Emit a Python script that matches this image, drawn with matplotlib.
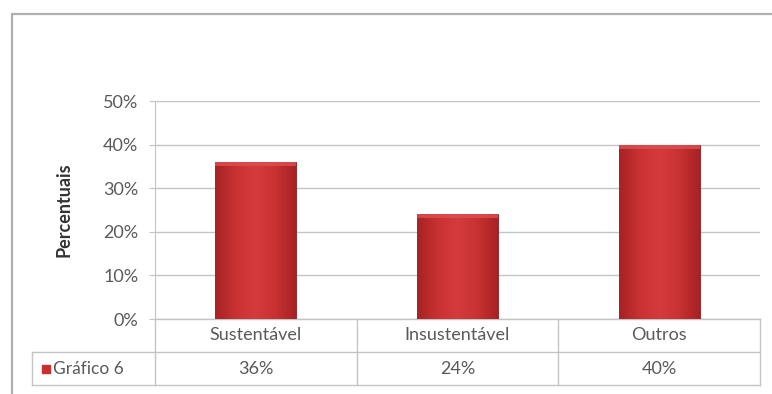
import matplotlib
matplotlib.use("Agg")
import matplotlib.pyplot as plt
import matplotlib.transforms as mtransforms
import numpy as np
from matplotlib.colors import LinearSegmentedColormap
from matplotlib.patches import Rectangle

CATEGORIES = ["Sustentável", "Insustentável", "Outros"]
VALUES = [36, 24, 40]
SERIES_NAME = "Gráfico 6"
Y_TICKS = [0, 10, 20, 30, 40, 50]

BAR_COLOR = "#c8302f"
GRID = "#c4c4c4"
TEXT = "#5a5a5a"
FS = 13

plt.rcParams["font.family"] = ["Lato", "DejaVu Sans"]

AX_W, AX_H = 605, 218     # plot area size in pixels
ROW_H = 33                # data table row height in pixels
LABEL_W = 123             # width of the series-name cell

BAR_CMAP = LinearSegmentedColormap.from_list(
    "bar", ["#a82224", "#c93132", "#d43b3c", "#c93132", "#a82224"])


def shade_bars(ax, bars):
    # Excel-like bevel: darker sides, lighter middle and a light top rim
    grad = np.linspace(0, 1, 64).reshape(1, -1)
    for bar in bars:
        x0, w, h = bar.get_x(), bar.get_width(), bar.get_height()
        im = ax.imshow(grad, cmap=BAR_CMAP, aspect="auto",
                       extent=[x0, x0 + w, 0, h], zorder=3)
        im.set_clip_path(bar)
        ax.add_patch(Rectangle((x0, h - 0.9), w, 0.9,
                               color="#dc5052", alpha=0.8, lw=0, zorder=4))


def draw_table(ax):
    """Excel-style data table under the category axis."""
    n = len(CATEGORIES)
    r1 = -ROW_H / AX_H
    r2 = -2 * ROW_H / AX_H
    x0 = -LABEL_W / AX_W
    kw = dict(color=GRID, lw=1.0, transform=ax.transAxes, clip_on=False)
    ax.plot([0, 1], [0, 0], **kw)
    ax.plot([x0, 1], [r1, r1], **kw)
    ax.plot([x0, 1], [r2, r2], **kw)
    ax.plot([x0, x0], [r1, r2], **kw)
    for i in range(n + 1):
        ax.plot([i / n, i / n], [0, r2], **kw)

    trans = mtransforms.blended_transform_factory(ax.transData, ax.transAxes)
    for i, (cat, val) in enumerate(zip(CATEGORIES, VALUES)):
        ax.text(i, (0 + r1) / 2, cat, transform=trans, ha="center", va="center",
                color=TEXT, fontsize=FS)
        ax.text(i, (r1 + r2) / 2, f"{val}%", transform=trans, ha="center",
                va="center", color=TEXT, fontsize=FS)
    ax.text(x0 + 21 / AX_W, (r1 + r2) / 2, SERIES_NAME, transform=ax.transAxes,
            ha="left", va="center", color=TEXT, fontsize=FS - 0.5)
    ax.plot([x0 + 14 / AX_W], [(r1 + r2) / 2], marker="s", ms=6,
            color=BAR_COLOR, transform=ax.transAxes, clip_on=False)


def main():
    fig = plt.figure(figsize=(7.72, 3.94), dpi=100)

    # outer chart frame (only top and left edges visible)
    fig.patches.append(Rectangle((12 / 772, -0.1), 1.2, 1.1 - 14 / 394,
                                 transform=fig.transFigure, fill=False,
                                 edgecolor="#b0b0b0", lw=1.6))

    ax = fig.add_axes([155 / 772, 1 - 319 / 394, AX_W / 772, AX_H / 394])
    x = np.arange(len(CATEGORIES))
    bars = ax.bar(x, VALUES, width=0.4, color=BAR_COLOR, edgecolor="#8a1a1c",
                  linewidth=0.6, zorder=3)
    shade_bars(ax, bars)
    ax.set_xlim(-0.5, len(CATEGORIES) - 0.5)
    ax.set_ylim(0, 50)
    ax.set_yticks(Y_TICKS)
    ax.set_yticklabels([f"{v}%" for v in Y_TICKS], color=TEXT, fontsize=FS)
    ax.set_xticks([])
    ax.grid(axis="y", color=GRID, lw=1.0, zorder=0)
    ax.tick_params(axis="y", length=4, color=GRID, pad=8)
    for side in ("top", "right", "bottom"):
        ax.spines[side].set_visible(False)
    ax.spines["left"].set_color(GRID)
    ax.set_ylabel("Percentuais", fontsize=FS, fontweight="bold",
                  color="#333333", labelpad=22)

    draw_table(ax)

    fig.savefig("out.png", dpi=100)


if __name__ == "__main__":
    main()
